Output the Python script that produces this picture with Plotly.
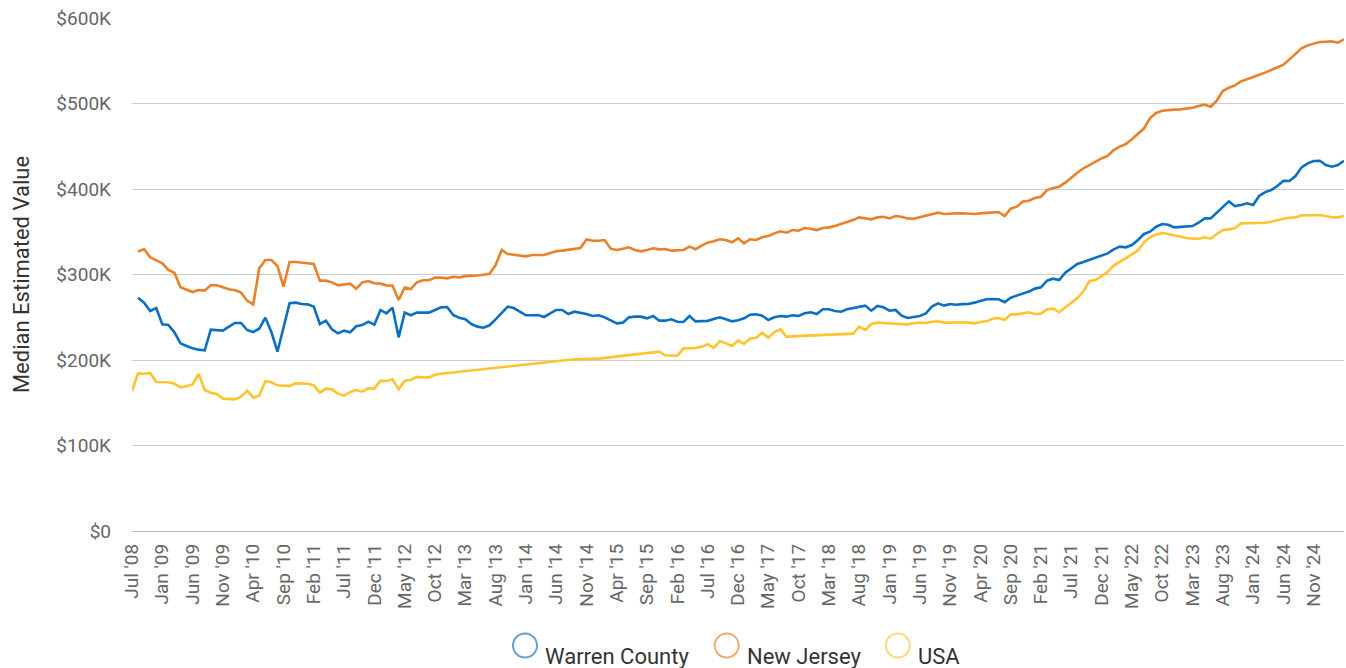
import pandas as pd
import plotly.graph_objects as go

# ---------------- data (values in $ thousands) ----------------
months = [d.strftime("%Y-%m") for d in pd.date_range("2008-07-01", "2025-04-01", freq="MS")
          if d.strftime("%Y-%m") != "2008-12"]

tick_labels = ["Jul '08", "Jan '09", "Jun '09", "Nov '09", "Apr '10", "Sep '10", "Feb '11", "Jul '11",
               "Dec '11", "May '12", "Oct '12", "Mar '13", "Aug '13", "Jan '14", "Jun '14", "Nov '14",
               "Apr '15", "Sep '15", "Feb '16", "Jul '16", "Dec '16", "May '17", "Oct '17", "Mar '18",
               "Aug '18", "Jan '19", "Jun '19", "Nov '19", "Apr '20", "Sep '20", "Feb '21", "Jul '21",
               "Dec '21", "May '22", "Oct '22", "Mar '23", "Aug '23", "Jan '24", "Jun '24", "Nov '24"]

warren = [None, 272.9, 267.1, 257.3, 260.8, 241.7, 240.9, 232.4, 219.5, 216.4,
          213.6, 212.1, 211.3, 235.5, 234.7, 234.3, 239.0, 243.3, 243.3, 235.1,
          232.7, 236.6, 249.5, 232.7, 209.7, 239.0, 266.3, 267.1, 265.5, 265.1,
          262.4, 242.1, 246.0, 235.9, 231.2, 234.3, 232.4, 239.4, 240.9, 244.8,
          241.3, 258.5, 254.6, 261.2, 226.5, 255.4, 252.3, 255.4, 255.4, 255.4,
          258.5, 261.6, 262.0, 252.6, 249.5, 247.6, 242.1, 239.0, 237.8, 240.6,
          247.6, 255.4, 262.4, 260.8, 256.5, 252.3, 252.3, 252.6, 250.3, 254.6,
          258.5, 258.5, 253.8, 256.5, 255.4, 253.8, 251.5, 252.3, 249.9, 246.0,
          242.9, 243.7, 249.9, 250.7, 250.7, 248.7, 251.5, 246.0, 246.0, 247.6,
          244.8, 244.4, 251.5, 245.2, 245.6, 245.8, 248.0, 250.0, 247.6, 245.2,
          246.4, 248.7, 253.0, 253.4, 251.9, 246.8, 250.0, 251.5, 250.7, 252.3,
          251.5, 254.6, 255.8, 253.8, 259.3, 259.3, 257.3, 256.5, 259.3, 260.8,
          262.4, 263.6, 257.7, 263.2, 261.6, 257.7, 258.5, 251.9, 249.1, 250.7,
          251.5, 254.6, 262.4, 266.3, 263.6, 265.5, 264.7, 265.3, 265.5, 267.1,
          269.0, 271.0, 271.4, 271.0, 267.5, 272.9, 275.3, 277.2, 280.0, 283.5,
          285.0, 292.8, 295.1, 293.6, 302.1, 307.2, 312.3, 314.6, 317.0, 319.3,
          321.6, 324.7, 329.4, 332.6, 331.8, 334.5, 340.4, 347.4, 350.1, 355.9,
          359.0, 358.2, 355.1, 355.9, 356.3, 356.7, 360.6, 365.7, 365.7, 372.3,
          379.3, 385.5, 380.1, 381.2, 383.2, 381.2, 391.8, 396.4, 398.8, 403.5,
          409.7, 409.4, 415.2, 425.3, 430.0, 432.7, 433.1, 428.1, 426.1, 428.1,
          433.0]

new_jersey = [None, 326.7, 329.8, 320.1, 317.0, 313.1, 305.3, 302.1, 285.0, 281.9,
              279.5, 281.9, 281.1, 287.7, 287.3, 285.0, 282.7, 281.5, 278.8, 269.4,
              264.7, 307.2, 317.0, 317.0, 310.0, 285.8, 314.6, 314.6, 313.5, 313.1,
              312.3, 292.8, 292.8, 290.8, 287.3, 288.5, 289.3, 283.4, 290.8, 292.4,
              289.7, 289.3, 287.3, 286.9, 270.2, 284.8, 283.0, 290.8, 293.3, 293.3,
              296.3, 296.3, 295.5, 297.4, 296.6, 298.1, 298.1, 298.9, 299.7, 300.8,
              311.1, 328.7, 324.0, 322.8, 322.4, 321.2, 322.8, 323.2, 322.8, 325.1,
              327.1, 327.9, 328.7, 330.2, 331.0, 341.1, 339.5, 339.5, 340.3, 330.2,
              328.7, 330.2, 331.8, 328.7, 327.1, 328.7, 330.6, 329.4, 329.8, 327.9,
              327.9, 328.7, 332.6, 329.6, 333.8, 337.2, 338.8, 341.2, 340.4, 337.7,
              342.3, 336.5, 341.2, 340.4, 343.5, 345.1, 348.1, 350.5, 348.9, 352.0,
              351.2, 354.4, 353.6, 352.0, 354.4, 355.1, 356.7, 359.0, 361.4, 363.7,
              366.8, 365.6, 364.5, 366.8, 367.6, 365.6, 368.4, 367.6, 365.6, 365.2,
              366.8, 368.4, 370.7, 372.3, 370.7, 371.5, 371.5, 371.7, 371.5, 370.8,
              371.5, 372.3, 373.1, 373.1, 368.4, 377.0, 379.3, 385.5, 386.3, 389.5,
              391.0, 398.8, 401.2, 402.7, 407.4, 413.6, 419.1, 424.2, 428.1, 432.4,
              435.9, 438.6, 445.6, 449.5, 452.6, 458.1, 464.3, 471.0, 483.0, 489.0,
              491.5, 492.4, 492.8, 493.1, 493.9, 495.1, 497.0, 498.6, 496.3, 503.3,
              514.6, 518.5, 521.2, 525.9, 528.3, 531.4, 533.7, 536.1, 539.2, 541.5,
              545.4, 551.6, 558.6, 564.5, 568.0, 569.6, 571.9, 572.3, 572.7, 571.1,
              575.0]

usa = ([163.7, 184.4, 184.0, 184.8, 174.3, 174.3, 173.9, 172.3, 168.0, 169.2,
        171.5, 183.6, 164.9, 161.8, 160.2, 154.8, 154.0, 154.0, 157.1, 164.1,
        155.9, 158.3, 175.1, 173.9, 170.4, 170.4, 169.6, 172.7, 172.7, 172.3,
        170.4, 161.8, 166.5, 165.7, 160.6, 158.3, 162.6, 164.9, 163.0, 166.9,
        166.5, 175.8, 175.4, 177.4, 165.7, 175.8, 176.6, 180.3, 179.7, 179.7,
        182.8, 184.0]
       + [None] * 21 + [200.8] + [None] * 3 + [201.6] + [None] * 9
       + [209.8, 205.5, 205.3,
          205.1, 213.6, 214.0, 214.0, 215.6, 218.5, 214.2, 222.2, 219.5, 216.4,
          222.6, 218.7, 225.3, 226.1, 232.0, 226.1, 232.7, 235.9, 227.3]
       + [None] * 10
       + [230.8,
          239.0, 235.1, 242.1, 243.7, 243.3, 242.9, 242.9, 242.5, 241.7, 242.9,
          243.7, 243.3, 244.8, 245.2, 243.7, 243.7, 244.1, 244.2, 243.7, 242.9,
          244.4, 245.2, 248.3, 249.1, 246.8, 253.4, 253.4, 254.6, 255.8, 253.8,
          254.2, 259.3, 260.0, 255.8, 261.6, 267.1, 272.5, 280.3, 292.4, 293.6,
          298.3, 303.0, 310.4, 315.0, 319.3, 323.2, 327.9, 337.7, 343.6, 346.8,
          348.5, 347.4, 345.8, 344.2, 342.7, 341.9, 341.9, 343.5, 341.9, 347.4,
          352.0, 352.8, 354.0, 359.8, 359.8, 359.8, 359.8, 360.6, 361.8, 363.7,
          365.3, 366.4, 366.8, 369.2, 369.6, 369.6, 369.6, 368.4, 366.8, 366.8,
          368.4])

series_names = ["Warren County", "New Jersey", "USA"]
series_colors = ["#0b70c2", "#e8812a", "#fec42d"]
y_ticks = [0, 100, 200, 300, 400, 500, 600]
y_tick_labels = ["$0", "$100K", "$200K", "$300K", "$400K", "$500K", "$600K"]

# ---------------- layout geometry ----------------
W, H = 1346, 668
L, R, T, B = 132, 2, 18, 137
PW, PH = W - L - R, H - T - B
FONT = "Roboto, 'Open Sans', Arial, sans-serif"


def px_x(px):
    return (px - L) / PW


def px_y(py):
    return (H - B - py) / PH


fig = go.Figure()
for name, vals, col in zip(series_names, [warren, new_jersey, usa], series_colors):
    fig.add_trace(go.Scatter(
        x=months, y=vals, mode="lines", name=name,
        line=dict(color=col, width=2.6), connectgaps=True, showlegend=False,
        hovertemplate="%{x}<br>$%{y:.1f}K<extra>" + name + "</extra>"))

# custom legend: open circles + labels below the chart
legend_circle_x = [525, 726.7, 897.8]
legend_text_x = [545, 746.7, 917.7]
shapes, annotations = [], []
for name, col, cx, tx in zip(series_names, series_colors, legend_circle_x, legend_text_x):
    shapes.append(dict(type="circle", xref="paper", yref="paper",
                       xsizemode="pixel", ysizemode="pixel",
                       xanchor=px_x(cx), yanchor=px_y(645.5),
                       x0=-12, x1=12, y0=-12, y1=12,
                       line=dict(color=col, width=2), fillcolor="rgba(0,0,0,0)", opacity=0.65))
    annotations.append(dict(text=name, xref="paper", yref="paper",
                            x=px_x(tx - 2), y=px_y(656), xanchor="left", yanchor="middle",
                            showarrow=False, font=dict(family=FONT, size=22, color="#333333")))

fig.update_layout(
    width=W, height=H,
    margin=dict(l=L, r=R, t=T, b=B, autoexpand=False),
    paper_bgcolor="white", plot_bgcolor="white",
    font=dict(family=FONT, color="#666666"),
    shapes=shapes, annotations=annotations,
    showlegend=False,
    xaxis=dict(type="category", categoryorder="array", categoryarray=months,
               range=[0, len(months) - 1],
               tickmode="array", tickvals=months[0:196:5], ticktext=tick_labels,
               tickangle=-90, tickfont=dict(family=FONT, size=19, color="#666666"),
               ticks="", ticklabelstandoff=8,
               showgrid=False, showline=False, zeroline=False, automargin=False),
    yaxis=dict(range=[0, 600], tickmode="array", tickvals=y_ticks, ticktext=y_tick_labels,
               tickfont=dict(family=FONT, size=19, color="#666666"),
               ticks="", ticklabelstandoff=20,
               showgrid=True, gridcolor="#cccccc", gridwidth=1,
               zeroline=True, zerolinecolor="#bbbbbb", zerolinewidth=1,
               showline=False, automargin=False,
               title=dict(text="Median Estimated Value", standoff=20,
                          font=dict(family=FONT, size=22, color="#333333"))),
)

fig.write_html("out.html", config={"displayModeBar": False},
               post_script="document.body.style.margin='0';document.body.style.overflow='hidden';")
